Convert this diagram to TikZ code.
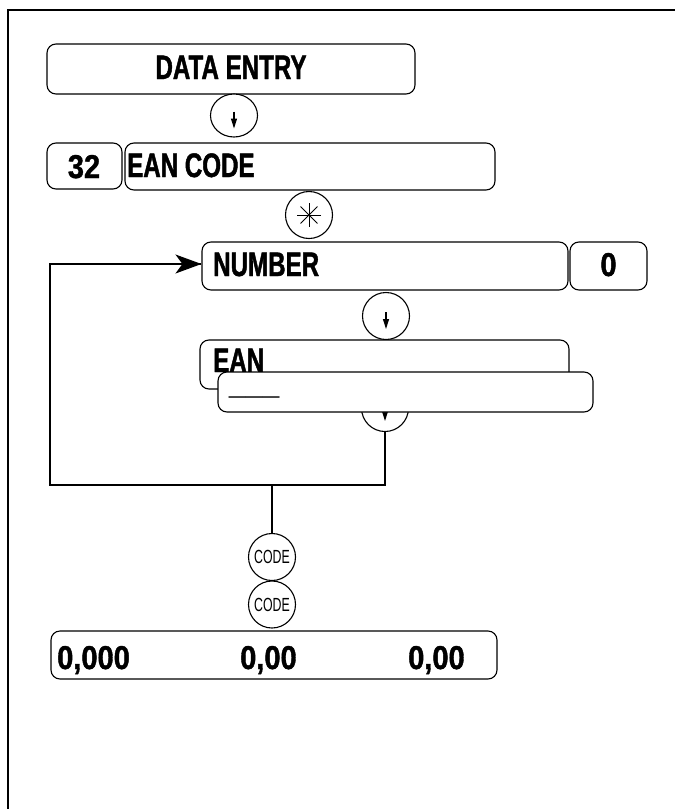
\documentclass[tikz,border=0pt]{standalone}
\usepackage{fontspec}
\usetikzlibrary{arrows.meta,calc,shapes.geometric}
\newfontfamily\lblfont[FakeStretch=0.71,FakeBold=1.3]{Liberation Sans}
\newfontfamily\digfont[FakeStretch=0.88,FakeBold=1.2]{Liberation Sans}
\newfontfamily\plainfont{Liberation Sans}
\newfontfamily\codefont[FakeStretch=0.65]{Liberation Sans}
\begin{document}
\begin{tikzpicture}[x=1pt,y=-1pt,
  box/.style={draw, rounded corners=9pt, inner sep=0pt, line width=1.1pt, fill=white},
  lbl/.style={font=\lblfont\bfseries\fontsize{34}{36}\selectfont, text height=20pt, text depth=0pt, inner sep=0pt},
  dig/.style={font=\digfont\bfseries\fontsize{33}{36}\selectfont, text height=20pt, text depth=0pt, inner sep=0pt},
  key/.style={draw, circle, minimum size=47pt, inner sep=0pt, line width=1.1pt, fill=white},
  downglyph/.style={path picture={\draw[line width=1.3pt,-{Triangle[length=10pt,width=6pt]}] ($(path picture bounding box.center)+(0pt,4pt)$) -- ++(0pt,-17pt);}},
  codekey/.style={key, font=\codefont\fontsize{19}{22}\selectfont},
  conn/.style={line width=1.2pt},
]
\useasboundingbox (0,0) rectangle (675,809);
\draw[line width=1.5pt] (675,10) -- (8,10) -- (8,809);

% DATA ENTRY
\node[box, lbl, minimum width=368pt, minimum height=50pt] (dataentry) at (231,69) {DATA ENTRY};
\node[key, ellipse, minimum width=47pt, minimum height=43pt, downglyph] (k1) at (234,115.5) {};

% 32 EAN CODE
\node[box, minimum width=75pt, minimum height=46pt] (b32) at (84.5,166) {};
\node[dig, anchor=center] (t32) at (84,168) {32};
\node[box, minimum width=370pt, minimum height=47pt] (eancode) at (310,166.5) {};
\node[lbl, anchor=west] (teancode) at (127,167) {EAN CODE};

% asterisk key
\node[key] (kast) at (309,215) {};
\foreach \a in {0,45,90,135}
  \draw[line width=0.9pt] ($(kast.center)+(\a:12pt)$) -- ($(kast.center)+(\a+180:12pt)$);

% NUMBER 0
\node[box, minimum width=366pt, minimum height=48pt] (number) at (385,266) {};
\node[lbl, anchor=west] (tnumber) at (213,266) {NUMBER};
\node[box, dig, minimum width=77pt, minimum height=48pt] (zero) at (608.5,266) {0};

\node[key, downglyph] (k2) at (386,316) {};

% EAN
\node[box, minimum width=369pt, minimum height=49pt] (ean) at (384.5,364.5) {};
\node[lbl, anchor=west] (tean) at (213,362) {EAN};

\node[key, downglyph] (k3) at (385,408) {};

% blank entry box
\node[box, minimum width=375pt, minimum height=40pt] (blank) at (405.5,392) {};
\node[font=\plainfont\fontsize{30}{32}\selectfont, text=black!75, anchor=base west, inner sep=0pt] (tblank) at (229,392) {\_\_\_};

% loop back
\coordinate (lb) at (385,485);
\coordinate (ll) at (50,485);
\coordinate (lt) at (50,264);
\coordinate (lm) at (272,485);
\draw[conn] (k3.south) -- (lb) -- (ll) -- (lt) -- (lt -| number.west);
\draw[-{Stealth[length=26pt,width=19pt,inset=7pt]}, line width=1.2pt] (170,264) -- (number.west |- lt);

% CODE keys
\node[codekey] (c1) at (272,557) {CODE};
\node[codekey] (c2) at (272,604.5) {CODE};
\draw[conn] (lm) -- (c1.north);

% result line
\node[box, minimum width=446pt, minimum height=48pt] (result) at (274,655) {};
\node[dig, anchor=west] (r1) at (57,659) {0,000};
\node[dig, anchor=west] (r2) at (240,659) {0,00};
\node[dig, anchor=west] (r3) at (408,659) {0,00};
\end{tikzpicture}
\end{document}
